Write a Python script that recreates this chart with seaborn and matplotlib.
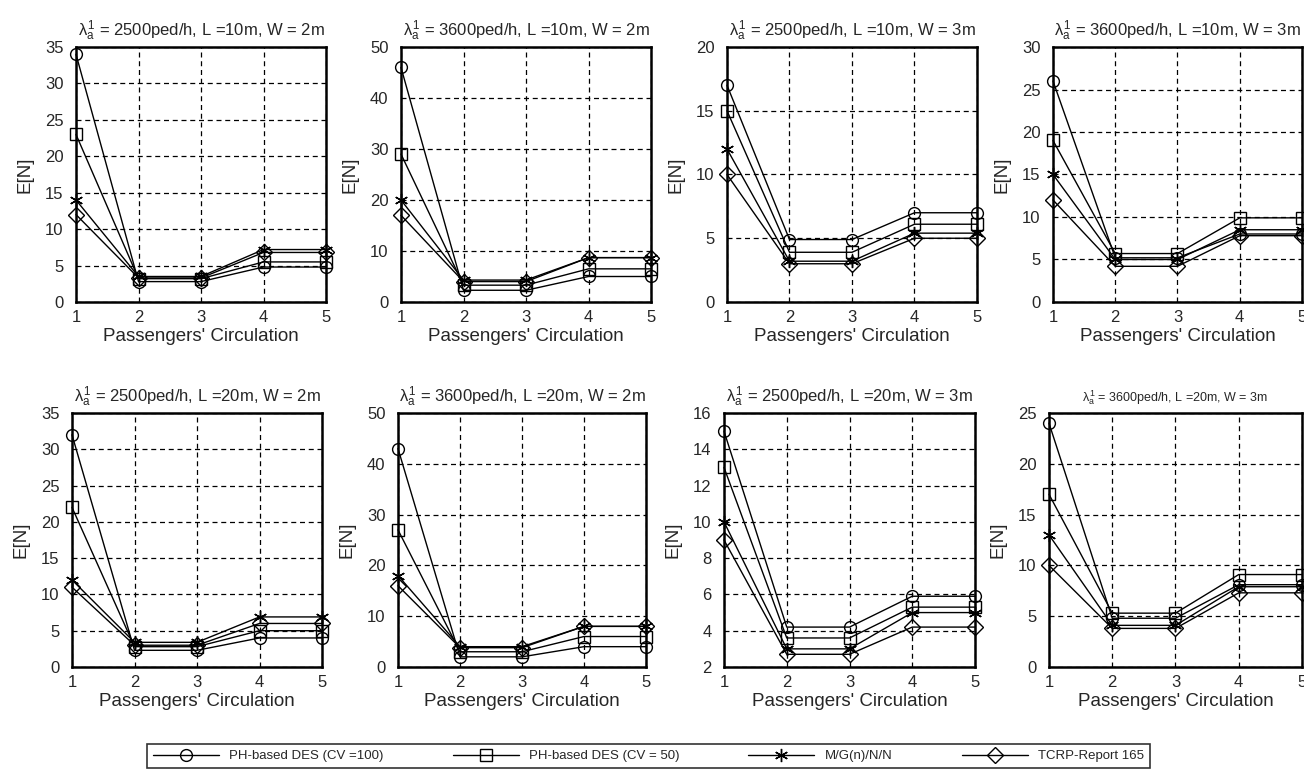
import numpy as np
import pandas as pd
import seaborn as sns
import matplotlib.pyplot as plt

sns.set_style('white')
plt.rcParams['font.family'] = ['Liberation Sans', 'DejaVu Sans']
plt.rcParams['mathtext.fontset'] = 'custom'
plt.rcParams['mathtext.rm'] = 'Liberation Sans'
plt.rcParams['mathtext.it'] = 'Liberation Sans'

circulation = [1, 2, 3, 4, 5]
series_names = ['PH-based DES (CV =100)', 'PH-based DES (CV = 50)', 'M/G(n)/N/N', 'TCRP-Report 165']
series_markers = ['o', 's', (6, 2, 0), 'D']

titles = [
    r'$\lambda_a^1$ = 2500ped/h, L =10m, W = 2m',
    r'$\lambda_a^1$ = 3600ped/h, L =10m, W = 2m',
    r'$\lambda_a^1$ = 2500ped/h, L =10m, W = 3m',
    r'$\lambda_a^1$ = 3600ped/h, L =10m, W = 3m',
    r'$\lambda_a^1$ = 2500ped/h, L =20m, W = 2m',
    r'$\lambda_a^1$ = 3600ped/h, L =20m, W = 2m',
    r'$\lambda_a^1$ = 2500ped/h, L =20m, W = 3m',
    r'$\lambda_a^1$ = 3600ped/h, L =20m, W = 3m',
]

# values per panel: circle, square, star, diamond
p1 = [[34, 2.8, 2.8, 4.8, 4.8], [23, 3.2, 3.2, 5.5, 5.5], [14, 3.5, 3.5, 7.2, 7.2], [12, 3.3, 3.3, 6.8, 6.8]]
p2 = [[46, 2.3, 2.3, 5.0, 5.0], [29, 3.3, 3.3, 6.5, 6.5], [20, 4.3, 4.3, 8.7, 8.7], [17, 4.0, 4.0, 8.7, 8.7]]
p3 = [[17, 4.9, 4.9, 7.0, 7.0], [15, 3.9, 3.9, 6.1, 6.1], [12, 3.2, 3.2, 5.4, 5.4], [10, 3.0, 3.0, 5.0, 5.0]]
p4 = [[26, 5.2, 5.2, 8.0, 8.0], [19, 5.7, 5.7, 9.9, 9.9], [15, 5.0, 5.0, 8.5, 8.5], [12, 4.2, 4.2, 7.8, 7.8]]
p5 = [[32, 2.3, 2.3, 4.0, 4.0], [22, 2.8, 2.8, 5.0, 5.0], [12, 3.4, 3.4, 6.9, 6.9], [11, 3.0, 3.0, 6.0, 6.0]]
p6 = [[43, 2.0, 2.0, 4.0, 4.0], [27, 3.0, 3.0, 6.0, 6.0], [18, 4.0, 4.0, 8.0, 8.0], [16, 3.8, 3.8, 8.0, 8.0]]
p7 = [[15, 4.2, 4.2, 5.9, 5.9], [13, 3.6, 3.6, 5.3, 5.3], [10, 3.0, 3.0, 5.0, 5.0], [9, 2.7, 2.7, 4.2, 4.2]]
p8 = [[24, 4.8, 4.8, 8.1, 8.1], [17, 5.3, 5.3, 9.1, 9.1], [13, 4.1, 4.1, 7.9, 7.9], [10, 3.8, 3.8, 7.3, 7.3]]
panels = [p1, p2, p3, p4, p5, p6, p7, p8]

y_ticks = [
    np.arange(0, 36, 5), np.arange(0, 51, 10), np.arange(0, 21, 5), np.arange(0, 31, 5),
    np.arange(0, 36, 5), np.arange(0, 51, 10), np.arange(2, 17, 2), np.arange(0, 26, 5),
]

W, H = 1304, 771
fig = plt.figure(figsize=(W / 100, H / 100), dpi=100)

# axes boxes in pixels: left, top, right, bottom
boxes = [
    (76, 47, 326, 302), (401, 47, 651, 302), (727, 47, 977, 302), (1053, 47, 1302, 302),
    (72, 413, 322, 667), (398, 413, 646, 667), (724, 413, 975, 667), (1049, 413, 1302, 667),
]

handles = []
for i, (vals, box) in enumerate(zip(panels, boxes)):
    l, t, r, b = box
    ax = fig.add_axes([l / W, 1 - b / H, (r - l) / W, (b - t) / H])
    for name, mk, v in zip(series_names, series_markers, vals):
        sns.lineplot(x=circulation, y=v, ax=ax, color='black', lw=1.0,
                     marker=mk, markersize=8.5 if mk != (6, 2, 0) else 9.5,
                     markerfacecolor='none', markeredgecolor='black',
                     markeredgewidth=1.0, label=name, legend=False, clip_on=False, zorder=3)
    if i == 0:
        handles = ax.get_lines()
    yt = y_ticks[i]
    ax.set_xlim(1, 5)
    ax.set_ylim(yt[0], yt[-1])
    ax.set_xticks(circulation)
    ax.set_yticks(yt)
    ax.grid(True, color='black', linestyle=(0, (4, 3)), linewidth=0.9)
    for s in ax.spines.values():
        s.set_color('black')
        s.set_linewidth(1.8)
        s.set_zorder(4)
    ax.tick_params(labelsize=12, length=0)
    ax.tick_params(axis='x', pad=6)
    ax.tick_params(axis='y', pad=9)
    ax.set_xlabel("Passengers' Circulation", fontsize=13.5, labelpad=2)
    ax.set_ylabel('E[N]', fontsize=13.5, labelpad=8)
    ax.set_title(titles[i], fontsize=9 if i == 7 else 12, pad=8)

leg = fig.legend(handles, series_names, loc='upper left',
                 bbox_to_anchor=(147 / W, 0.0, (1150 - 147) / W, 1 - 744 / H),
                 mode='expand', ncol=4, fontsize=9.5, handlelength=5,
                 frameon=True, fancybox=False, borderaxespad=0, borderpad=0.45)
leg.get_frame().set_edgecolor('black')
leg.get_frame().set_linewidth(1.2)

fig.savefig('out.png', dpi=100)
